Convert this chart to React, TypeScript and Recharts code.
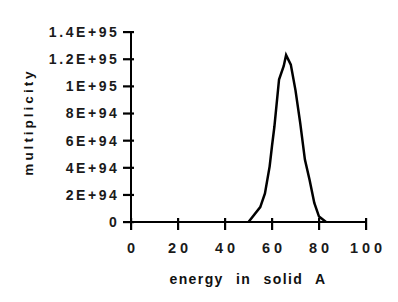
import { LineChart, Line, XAxis, YAxis } from "recharts";

const energy = [50, 55, 57, 59, 60, 61, 63, 65, 66, 68, 70, 72, 74, 76, 78, 80, 83];
const multiplicity = [
  0, 1.1e94, 2.1e94, 4.1e94, 5.6e94, 7.0e94, 1.05e95, 1.15e95, 1.23e95, 1.16e95, 9.7e94, 7.3e94,
  4.6e94, 3.1e94, 1.4e94, 0.4e94, 0,
];
const xTicks = [0, 20, 40, 60, 80, 100];
const yTicks = [0, 2e94, 4e94, 6e94, 8e94, 1e95, 1.2e95, 1.4e95];
const yTickLabels = ["0", "2E+94", "4E+94", "6E+94", "8E+94", "1E+95", "1.2E+95", "1.4E+95"];

const data = energy.map((e, i) => ({ e, m: multiplicity[i] }));

const font = "Liberation Sans, Arial, sans-serif";

// tick marks cross the axis line, so they are drawn inside the custom ticks
const YTick = (props: any) => {
  const { x, y, payload, index } = props;
  const label = yTickLabels[yTicks.indexOf(payload.value)] ?? yTickLabels[index];
  return (
    <g>
      <rect x={x + 1} y={y - 1} width={11} height={2.2} fill="#000" />
      <text
        x={x - 2.5}
        y={y + 5}
        textAnchor="end"
        fontFamily={font}
        fontSize={14}
        fontWeight="bold"
        letterSpacing={2.6}
        fill="#1a1a1a"
      >
        {label}
      </text>
    </g>
  );
};

const XTick = (props: any) => {
  const { x, y, payload } = props;
  return (
    <g>
      <rect x={x - 1} y={y - 14} width={2.2} height={12} fill="#000" />
      <text
        x={x + 2}
        y={y + 21}
        textAnchor="middle"
        fontFamily={font}
        fontSize={14.5}
        fontWeight="bold"
        letterSpacing={4}
        fill="#1a1a1a"
      >
        {payload.value}
      </text>
    </g>
  );
};

export default function App() {
  return (
    <div style={{ position: "absolute", left: 0, top: 0, width: 398, height: 302, background: "#fff" }}>
      <LineChart width={398} height={302} data={data} margin={{ top: 32, right: 32, left: 0, bottom: 0 }}>
        <XAxis
          dataKey="e"
          type="number"
          domain={[0, 100]}
          ticks={xTicks}
          interval={0}
          height={80}
          axisLine={{ stroke: "#000", strokeWidth: 2 }}
          tickLine={false}
          tickSize={8}
          tick={<XTick />}
        />
        <YAxis
          type="number"
          domain={[0, 1.4e95]}
          ticks={yTicks}
          interval={0}
          width={131}
          axisLine={{ stroke: "#000", strokeWidth: 2 }}
          tickLine={false}
          tickSize={7}
          tick={<YTick />}
        />
        <Line
          type="linear"
          dataKey="m"
          stroke="#000"
          strokeWidth={2.5}
          dot={false}
          isAnimationActive={false}
        />
        <text
          x={248}
          y={284}
          textAnchor="middle"
          fontFamily={font}
          fontSize={14}
          fontWeight="bold"
          letterSpacing={1.4}
          wordSpacing={7}
          fill="#111"
        >
          energy in solid A
        </text>
        <text
          x={33}
          y={122}
          textAnchor="middle"
          transform="rotate(-90 33 122)"
          fontFamily={font}
          fontSize={13.5}
          fontWeight="bold"
          letterSpacing={3}
          fill="#111"
        >
          multiplicity
        </text>
      </LineChart>
    </div>
  );
}
